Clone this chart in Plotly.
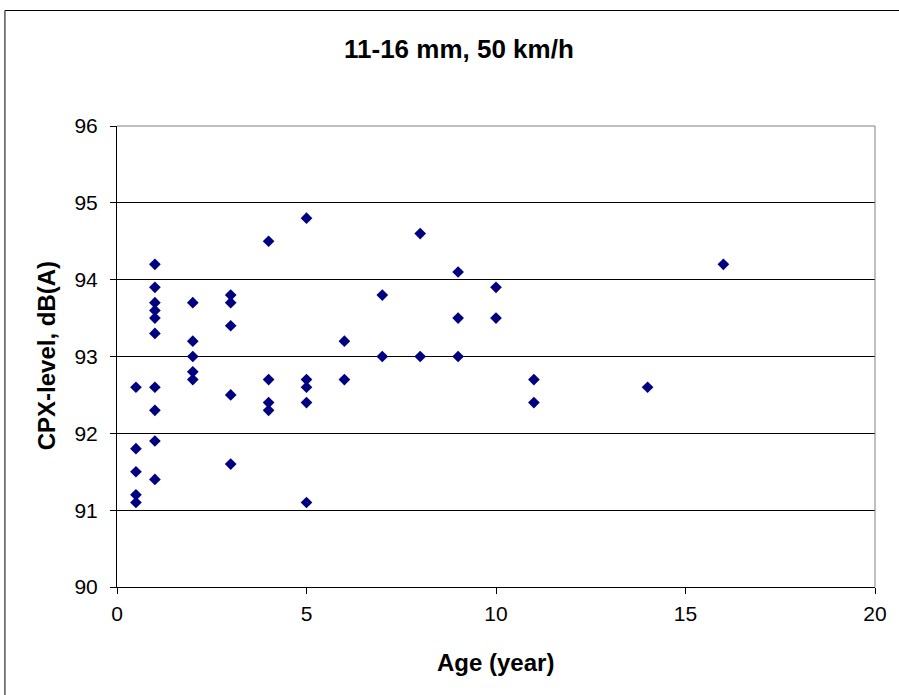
import plotly.graph_objects as go

# Data
age_years = [0.5, 0.5, 0.5, 0.5, 0.5,
             1, 1, 1, 1, 1, 1, 1, 1, 1, 1,
             2, 2, 2, 2, 2,
             3, 3, 3, 3, 3,
             4, 4, 4, 4,
             5, 5, 5, 5, 5,
             6, 6,
             7, 7,
             8, 8,
             9, 9, 9,
             10, 10,
             11, 11,
             14,
             16]
cpx_level = [92.6, 91.8, 91.5, 91.2, 91.1,
             94.2, 93.9, 93.7, 93.6, 93.5, 93.3, 92.6, 92.3, 91.9, 91.4,
             93.7, 93.2, 93.0, 92.8, 92.7,
             93.8, 93.7, 93.4, 92.5, 91.6,
             94.5, 92.7, 92.4, 92.3,
             94.8, 92.7, 92.6, 92.4, 91.1,
             93.2, 92.7,
             93.8, 93.0,
             94.6, 93.0,
             94.1, 93.5, 93.0,
             93.9, 93.5,
             92.7, 92.4,
             92.6,
             94.2]

x_ticks = [0, 5, 10, 15, 20]
y_ticks = [90, 91, 92, 93, 94, 95, 96]

W, H = 899, 695
L, R, T, B = 117, 21, 126, 108
pw, ph = W - L - R, H - T - B

def px_x(p):
    return (p - L) / pw

def px_y(p):
    return (H - B - p) / ph

FONT = "Liberation Sans, Arial, sans-serif"

fig = go.Figure()
fig.add_trace(go.Scatter(
    x=age_years, y=cpx_level, mode="markers",
    marker=dict(symbol="diamond", size=9, color="#000080",
                line=dict(width=0)),
    showlegend=False, hoverinfo="x+y"))

fig.update_layout(
    width=W, height=H,
    margin=dict(l=L, r=R, t=T, b=B),
    paper_bgcolor="white", plot_bgcolor="white",
    font=dict(family=FONT, color="black", size=21),
    xaxis=dict(range=[0, 20], tickvals=x_ticks, ticktext=[str(v) for v in x_ticks],
               showgrid=False, zeroline=False, showline=True, linecolor="black",
               linewidth=1, ticks="outside", ticklen=6, tickcolor="black",
               tickfont=dict(size=21), ticklabelstandoff=2, fixedrange=True),
    yaxis=dict(range=[90, 96], tickvals=y_ticks, ticktext=[str(v) for v in y_ticks],
               showgrid=True, gridcolor="black", gridwidth=1, zeroline=False,
               showline=True, linecolor="black", linewidth=1,
               ticks="outside", ticklen=6, tickcolor="black",
               tickfont=dict(size=21), ticklabelstandoff=8, fixedrange=True),
    shapes=[
        # plot-area border top/right (gray)
        dict(type="line", xref="paper", yref="paper", x0=0, x1=1, y0=1, y1=1,
             line=dict(color="#808080", width=1)),
        dict(type="line", xref="paper", yref="paper", x0=1, x1=1, y0=0, y1=1,
             line=dict(color="#808080", width=1)),
        # outer chart border (left and top)
        dict(type="line", xref="paper", yref="paper", x0=px_x(4.5), x1=px_x(4.5),
             y0=px_y(10.5), y1=px_y(720), line=dict(color="black", width=1)),
        dict(type="line", xref="paper", yref="paper", x0=px_x(4.5), x1=px_x(930),
             y0=px_y(10.5), y1=px_y(10.5), line=dict(color="black", width=1)),
    ],
    annotations=[
        dict(text="<b>11-16 mm, 50 km/h</b>", xref="paper", yref="paper",
             x=px_x(460), y=px_y(49), xanchor="center", yanchor="middle",
             showarrow=False, font=dict(size=26, family=FONT)),
        dict(text="<b>Age (year)</b>", xref="paper", yref="paper",
             x=px_x(497), y=px_y(662), xanchor="center", yanchor="middle",
             showarrow=False, font=dict(size=24, family=FONT)),
        dict(text="<b>CPX-level, dB(A)</b>", xref="paper", yref="paper",
             x=px_x(46), y=px_y(356), xanchor="center", yanchor="middle",
             textangle=-90, showarrow=False, font=dict(size=24, family=FONT)),
    ],
)

fig.write_html("out.html")
